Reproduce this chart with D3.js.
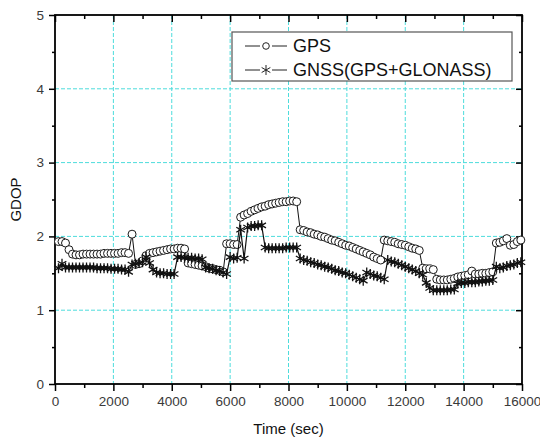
<!DOCTYPE html>
<html>
<head>
<meta charset="utf-8">
<script src="https://cdn.jsdelivr.net/npm/d3@7"></script>
<style>
  body { margin: 0; background: #fff; }
  svg { display: block; font-family: Arial, "Liberation Sans", sans-serif; }
</style>
</head>
<body>
<div id="chart"></div>
<script>
// epochs: first sample and spacing (sec)
var sampleStart = 120,
    sampleStep = 120;

var gpsGdop = [
  1.93, 1.93, 1.91, 1.82, 1.76, 1.75, 1.75, 1.76, 1.76, 1.76, 1.76, 1.76, 1.76, 1.77, 1.77, 1.77, 1.77, 1.77, 1.78, 1.78, 1.77,
  2.03, 1.62, 1.63, 1.67, 1.74,
  1.77, 1.78, 1.79, 1.80, 1.81, 1.82, 1.83, 1.83, 1.84, 1.84, 1.83,
  1.64, 1.63, 1.62, 1.61, 1.60, 1.59, 1.57, 1.56, 1.55, 1.54, 1.52,
  1.90, 1.90, 1.89, 1.89,
  2.26, 2.29, 2.31, 2.34, 2.36, 2.38, 2.40, 2.41, 2.43, 2.44, 2.45, 2.46, 2.47, 2.47, 2.48, 2.48, 2.47,
  2.09, 2.08, 2.06, 2.05, 2.03, 2.02, 2.00, 1.99, 1.97, 1.95, 1.94, 1.92, 1.90, 1.88, 1.87, 1.85, 1.83, 1.81, 1.79, 1.77, 1.75, 1.72, 1.70, 1.68,
  1.95, 1.94, 1.93, 1.92, 1.90, 1.89, 1.88, 1.86, 1.84, 1.83, 1.81,
  1.57, 1.56, 1.56, 1.55,
  1.42, 1.41, 1.41, 1.41, 1.42, 1.43,
  1.45, 1.46, 1.47, 1.48, 1.53, 1.49, 1.49, 1.50, 1.50, 1.51, 1.52,
  1.91, 1.92, 1.94, 1.97, 1.88, 1.89, 1.93, 1.95
];

var gnssGdop = [
  1.57, 1.63, 1.58, 1.58, 1.58, 1.58, 1.58, 1.58, 1.58, 1.58, 1.58, 1.57, 1.57, 1.57, 1.57, 1.56, 1.56, 1.56, 1.55, 1.55, 1.52,
  1.62, 1.63, 1.64, 1.65, 1.72, 1.64,
  1.55, 1.51, 1.50, 1.50, 1.49, 1.49, 1.49,
  1.72, 1.72, 1.71, 1.71, 1.71, 1.70, 1.70, 1.69,
  1.58, 1.57, 1.56, 1.54, 1.53, 1.51, 1.49,
  1.72, 1.70, 1.71, 2.09, 1.70,
  2.12, 2.14, 2.14, 2.15, 2.15,
  1.85, 1.84, 1.84, 1.84, 1.84, 1.84, 1.85, 1.85, 1.85, 1.85,
  1.70, 1.68, 1.67, 1.65, 1.64, 1.62, 1.61, 1.59, 1.58, 1.56, 1.54, 1.53, 1.51, 1.50, 1.48, 1.46, 1.44, 1.42, 1.40,
  1.51, 1.49, 1.47, 1.46, 1.44, 1.42,
  1.68, 1.66, 1.65, 1.63, 1.61, 1.59, 1.57, 1.55, 1.53, 1.50, 1.48,
  1.37, 1.30, 1.27, 1.27, 1.27, 1.27, 1.27, 1.28, 1.28,
  1.36, 1.37, 1.37, 1.38, 1.38, 1.38, 1.39, 1.39, 1.40, 1.40, 1.41,
  1.59, 1.57, 1.58, 1.60, 1.61, 1.62, 1.64, 1.65
];

var seriesNames = ['GPS', 'GNSS(GPS+GLONASS)'];
var xTicks = [0, 2000, 4000, 6000, 8000, 10000, 12000, 14000, 16000];
var xMinor = [1000, 3000, 5000, 7000, 9000, 11000, 13000, 15000];
var yTicks = [0, 1, 2, 3, 4, 5];
var yMinor = [0.5, 1.5, 2.5, 3.5, 4.5];

var W = 540, H = 441,
    margin = { top: 15, right: 18, bottom: 57, left: 55 },
    width = W - margin.left - margin.right,
    height = H - margin.top - margin.bottom;

var x = d3.scaleLinear().domain([0, 16000]).range([0, width]),
    y = d3.scaleLinear().domain([0, 5]).range([height, 0]);

var svg = d3.select('#chart').append('svg')
    .attr('width', W)
    .attr('height', H);

var chart = svg.append('g')
    .attr('transform', 'translate(' + margin.left + ',' + margin.top + ')');

// grid
var gridColor = '#4ddcdc';
chart.append('g').selectAll('line')
    .data(xTicks.slice(1, -1))
    .enter().append('line')
    .attr('x1', function (d) { return x(d); })
    .attr('x2', function (d) { return x(d); })
    .attr('y1', 0).attr('y2', height)
    .attr('stroke', gridColor)
    .attr('stroke-dasharray', '4,2');

chart.append('g').selectAll('line')
    .data(yTicks.slice(1, -1))
    .enter().append('line')
    .attr('y1', function (d) { return y(d); })
    .attr('y2', function (d) { return y(d); })
    .attr('x1', 0).attr('x2', width)
    .attr('stroke', gridColor)
    .attr('stroke-dasharray', '4,2');

// axes: outward ticks bottom/left, inward ticks top/right
function styleAxis(g) {
  g.select('.domain').remove();
  g.selectAll('line').attr('stroke', '#000').attr('stroke-width', 1.5);
  g.selectAll('text')
    .attr('fill', '#3a3a3a')
    .style('font-size', '13.5px')
    .style('font-family', 'Arial, "Liberation Sans", sans-serif');
}

chart.append('g')
    .attr('transform', 'translate(0,' + height + ')')
    .call(d3.axisBottom(x).tickValues(xTicks).tickSize(7).tickPadding(5).tickFormat(d3.format('d')))
    .call(styleAxis);
chart.append('g')
    .attr('transform', 'translate(0,' + height + ')')
    .call(d3.axisBottom(x).tickValues(xMinor).tickSize(4).tickFormat(''))
    .call(styleAxis);

chart.append('g')
    .call(d3.axisLeft(y).tickValues(yTicks).tickSize(6).tickPadding(5).tickFormat(d3.format('d')))
    .call(styleAxis);
chart.append('g')
    .call(d3.axisLeft(y).tickValues(yMinor).tickSize(3).tickFormat(''))
    .call(styleAxis);

chart.append('g')
    .call(d3.axisBottom(x).tickValues(xTicks).tickSize(7).tickFormat(''))
    .call(styleAxis);
chart.append('g')
    .call(d3.axisBottom(x).tickValues(xMinor).tickSize(4).tickFormat(''))
    .call(styleAxis);

chart.append('g')
    .attr('transform', 'translate(' + width + ',0)')
    .call(d3.axisLeft(y).tickValues(yTicks).tickSize(6).tickFormat(''))
    .call(styleAxis);
chart.append('g')
    .attr('transform', 'translate(' + width + ',0)')
    .call(d3.axisLeft(y).tickValues(yMinor).tickSize(3).tickFormat(''))
    .call(styleAxis);

// frame
chart.append('rect')
    .attr('x', 0).attr('y', 0)
    .attr('width', width).attr('height', height)
    .attr('fill', 'none')
    .attr('stroke', '#000')
    .attr('stroke-width', 1.8);

// series
function toPoints(vals) {
  return vals.map(function (v, i) { return [sampleStart + i * sampleStep, v]; });
}

var line = d3.line()
    .x(function (d) { return x(d[0]); })
    .y(function (d) { return y(d[1]); });

var starPath = (function () {
  var r = 5, p = '';
  [90, 30, 150].forEach(function (a) {
    var dx = r * Math.cos(a * Math.PI / 180), dy = r * Math.sin(a * Math.PI / 180);
    p += 'M' + (-dx) + ',' + (dy) + 'L' + dx + ',' + (-dy);
  });
  return p;
})();

var gpsPts = toPoints(gpsGdop),
    gnssPts = toPoints(gnssGdop);

chart.append('path')
    .attr('d', line(gpsPts))
    .attr('fill', 'none')
    .attr('stroke', '#111')
    .attr('stroke-width', 1);

chart.append('g').selectAll('circle')
    .data(gpsPts)
    .enter().append('circle')
    .attr('cx', function (d) { return x(d[0]); })
    .attr('cy', function (d) { return y(d[1]); })
    .attr('r', 4)
    .attr('fill', '#fff')
    .attr('stroke', '#1a1a1a')
    .attr('stroke-width', 1);

chart.append('path')
    .attr('d', line(gnssPts))
    .attr('fill', 'none')
    .attr('stroke', '#111')
    .attr('stroke-width', 1.2);

chart.append('g').selectAll('path')
    .data(gnssPts)
    .enter().append('path')
    .attr('transform', function (d) { return 'translate(' + x(d[0]) + ',' + y(d[1]) + ')'; })
    .attr('d', starPath)
    .attr('stroke', '#111')
    .attr('stroke-width', 1.3);

// legend
var legend = svg.append('g').attr('transform', 'translate(232,32)');
legend.append('rect')
    .attr('x', 0).attr('y', 0)
    .attr('width', 280).attr('height', 49)
    .attr('fill', '#fff')
    .attr('stroke', '#555')
    .attr('stroke-width', 1.2);

seriesNames.forEach(function (name, i) {
  var row = legend.append('g').attr('transform', 'translate(0,' + (14 + i * 24) + ')');
  row.append('line')
    .attr('x1', 13).attr('x2', 28)
    .attr('y1', 0).attr('y2', 0)
    .attr('stroke', '#222');
  row.append('line')
    .attr('x1', 40).attr('x2', 55)
    .attr('y1', 0).attr('y2', 0)
    .attr('stroke', '#222');
  if (i === 0) {
    row.append('circle')
      .attr('cx', 34).attr('cy', 0).attr('r', 3.3)
      .attr('fill', '#fff').attr('stroke', '#222');
  } else {
    row.append('path')
      .attr('transform', 'translate(34,0)')
      .attr('d', starPath)
      .attr('stroke', '#222');
  }
  row.append('text')
    .attr('x', 61).attr('y', 0)
    .attr('dy', '0.36em')
    .style('font-size', '18px')
    .attr('fill', '#111')
    .text(name);
});

// axis titles
svg.append('text')
    .attr('x', margin.left + width / 2)
    .attr('y', 434)
    .attr('text-anchor', 'middle')
    .style('font-size', '15px')
    .attr('fill', '#111')
    .text('Time (sec)');

svg.append('text')
    .attr('transform', 'translate(21,' + (margin.top + height / 2) + ') rotate(-90)')
    .attr('text-anchor', 'middle')
    .style('font-size', '15px')
    .attr('fill', '#111')
    .text('GDOP');
</script>
</body>
</html>
